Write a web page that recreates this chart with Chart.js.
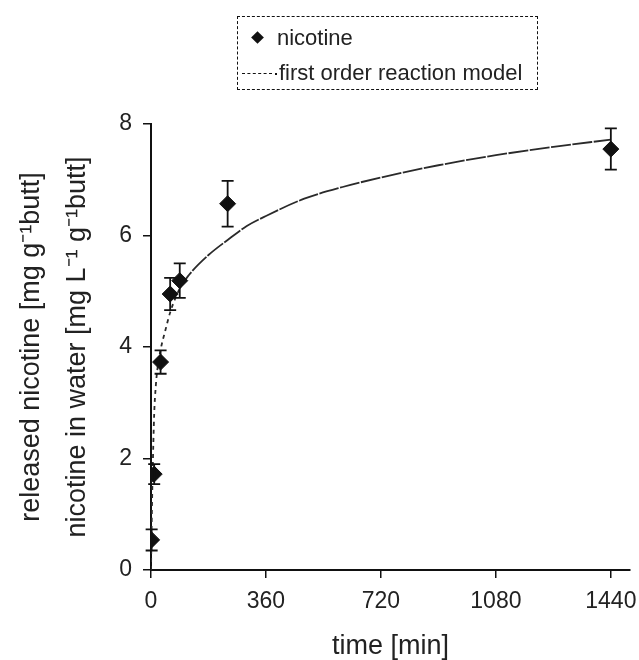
<!DOCTYPE html>
<html>
<head>
<meta charset="utf-8">
<script src="https://cdn.jsdelivr.net/npm/chart.js@4.4.0/dist/chart.umd.min.js"></script>
<style>
  body { margin: 0; background: #fff; }
  #wrap { position: relative; width: 639px; height: 660px; }
  #legend {
    position: absolute; left: 237px; top: 16px; width: 299px; height: 72px;
    border: 1.5px dashed #111; font: 22px "Liberation Sans", Arial, sans-serif; color: #222;
  }
  #legend .row { position: absolute; left: 0; white-space: nowrap; line-height: 22px; }
  #legend .dia {
    position: absolute; width: 9px; height: 9px; background: #111; transform: rotate(45deg);
  }
  #legend .dash {
    position: absolute; width: 30px; border-top: 1.5px dashed #111;
  }
  #legend .dot {
    position: absolute; width: 2px; height: 2px; background: #111;
  }
</style>
</head>
<body>
<div id="wrap">
  <canvas id="nicotine-chart" width="639" height="660"></canvas>
  <div id="legend">
    <span class="dia" style="left:15px;top:16px"></span>
    <span class="row" style="left:39px;top:10px">nicotine</span>
    <span class="dash" style="left:4px;top:56px"></span>
    <span class="dot" style="left:37px;top:56px"></span>
    <span class="row" style="left:41px;top:45px">first order reaction model</span>
  </div>
</div>
<script>
// measured release of nicotine
const sampleTimes = [2, 10, 30, 60, 90, 240, 1440];
const nicotine = [0.54, 1.72, 3.73, 4.95, 5.19, 6.57, 7.55];
const nicotineErr = [0.19, 0.18, 0.21, 0.29, 0.31, 0.41, 0.37];

// fitted model curve
const modelTimes = [0, 2, 5, 10, 15, 20, 30, 45, 60, 90, 120, 180, 240, 300, 360, 480, 600, 720, 900, 1080, 1260, 1440];
const modelValues = [0, 0.8, 1.7, 2.8, 3.3, 3.6, 3.95, 4.3, 4.62, 5.05, 5.3, 5.65, 5.92, 6.17, 6.35, 6.66, 6.87, 7.04, 7.26, 7.44, 7.59, 7.72];

const xTicks = [0, 360, 720, 1080, 1440];
const yTicks = [0, 2, 4, 6, 8];

Chart.defaults.font.family = '"Liberation Sans", Arial, sans-serif';
Chart.defaults.color = "#222";

const errorBars = {
  id: "errorBars",
  afterDatasetsDraw(chart) {
    const xs = chart.scales.x, ys = chart.scales.y;
    const c = chart.ctx;
    c.save();
    c.strokeStyle = "#111";
    c.lineWidth = 1.8;
    sampleTimes.forEach((t, i) => {
      const x = xs.getPixelForValue(t);
      const top = ys.getPixelForValue(nicotine[i] + nicotineErr[i]);
      const bot = ys.getPixelForValue(nicotine[i] - nicotineErr[i]);
      c.beginPath();
      c.moveTo(x, top); c.lineTo(x, bot);
      c.moveTo(x - 6, top); c.lineTo(x + 6, top);
      c.moveTo(x - 6, bot); c.lineTo(x + 6, bot);
      c.stroke();
    });
    c.restore();
  }
};

var ctx = document.getElementById("nicotine-chart").getContext("2d");
var chart = new Chart(ctx, {
  type: "scatter",
  data: {
    datasets: [
      {
        label: "nicotine",
        data: sampleTimes.map((t, i) => ({ x: t, y: nicotine[i] })),
        pointStyle: "rectRot",
        pointRadius: 8,
        backgroundColor: "#111",
        borderColor: "#111",
        order: 0,
      },
      {
        label: "first order reaction model",
        type: "line",
        data: modelTimes.map((t, i) => ({ x: t, y: modelValues[i] })),
        showLine: true,
        pointRadius: 0,
        borderColor: "#2a2a2a",
        borderWidth: 1.8,
        cubicInterpolationMode: "monotone",
        fill: false,
        segment: {
          borderDash: (s) => (s.p0.parsed.x < 90 ? [4, 4] : [20, 1.5]),
        },
        order: 1,
      },
    ],
  },
  options: {
    responsive: false,
    animation: false,
    layout: { padding: { top: 124, right: 9, left: 0, bottom: 0 } },
    plugins: { legend: { display: false }, tooltip: { enabled: false } },
    scales: {
      x: {
        type: "linear",
        min: 0,
        max: 1500,
        afterBuildTicks: (s) => { s.ticks = xTicks.map((v) => ({ value: v })); },
        afterFit: (s) => { s.height = 90; s.paddingLeft = 0; s.paddingRight = 0; },
        grid: { drawOnChartArea: false, drawTicks: true, tickLength: 8, color: "#111", lineWidth: 1.5 },
        border: { color: "#111", width: 2 },
        ticks: { font: { size: 23 }, padding: 10, color: "#222", callback: (v) => String(v) },
        title: { display: true, text: "time [min]", font: { size: 27 }, padding: { top: 0, bottom: -3 }, color: "#222" },
      },
      y: {
        min: 0,
        max: 8,
        afterBuildTicks: (s) => { s.ticks = yTicks.map((v) => ({ value: v })); },
        afterFit: (s) => { s.width = 151; s.paddingTop = 0; s.paddingBottom = 0; },
        grid: { drawOnChartArea: false, drawTicks: true, tickLength: 8, color: "#111", lineWidth: 1.5 },
        border: { color: "#111", width: 2 },
        ticks: { font: { size: 23 }, padding: 11, color: "#222", callback: (v) => String(v) },
        title: {
          display: true,
          text: ["released nicotine [mg g\u207B\u00B9butt]", "nicotine in water [mg L\u207B\u00B9 g\u207B\u00B9butt]"],
          font: { size: 27, lineHeight: 46 / 27 },
          padding: { top: 9, bottom: 0 },
          color: "#222",
        },
      },
    },
  },
  plugins: [errorBars],
});
</script>
</body>
</html>
